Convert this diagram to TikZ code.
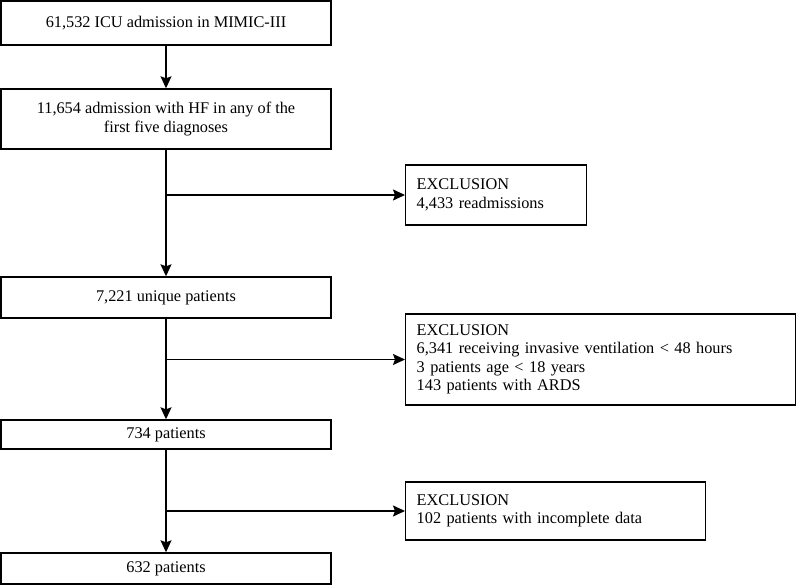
\documentclass[tikz,border=0pt]{standalone}
\usepackage{fontspec}
\setmainfont{Liberation Serif}
\usetikzlibrary{arrows.meta}

\begin{document}
\begin{tikzpicture}[x=1pt, y=-1pt,
        box/.style={draw, line width=1.4pt, minimum width=330pt, align=center, inner sep=0pt, font=\fontsize{16.3}{18.5}\selectfont},
        excl/.style={draw, line width=1.4pt, anchor=west, align=left, inner xsep=11pt, inner ysep=0pt, font=\fontsize{16.3}{18.5}\selectfont},
        flow/.style={line width=1.4pt, -{Stealth[length=12pt, width=11pt, inset=2pt]}}]
        \useasboundingbox (0,0) rectangle (796,586);

        \node[box, minimum height=44pt] (icu) at (166,23) {61,532 ICU admission in MIMIC-III};
        \node[box, minimum height=60pt] (hf) at (166,119) {11,654 admission with HF in any of the\\first five diagnoses};
        \node[box, minimum height=41pt] (uniq) at (166,297.5) {7,221 unique patients};
        \node[box, minimum height=29pt] (p734) at (166,434.5) {734 patients};
        \node[box, minimum height=31pt] (p632) at (166,568.5) {632 patients};

        \node[excl, text width=159pt, minimum height=60pt] (readm) at (405,195) {EXCLUSION\\4,433 readmissions};
        \node[excl, text width=368pt, minimum height=91pt] (vent) at (405,359.5) {EXCLUSION\\6,341 receiving invasive ventilation < 48 hours\\3 patients age < 18 years\\143 patients with ARDS};
        \node[excl, text width=278pt, minimum height=58pt] (incomp) at (405,511) {EXCLUSION\\102 patients with incomplete data};

        \draw[flow] (icu) -- (hf);
        \draw[flow] (hf) -- (uniq);
        \draw[flow] (hf.south |- readm.west) -- (readm.west);
        \draw[flow] (uniq) -- (p734);
        \draw[flow] (uniq.south |- vent.west) -- (vent.west);
        \draw[flow] (p734) -- (p632);
        \draw[flow] (p734.south |- incomp.west) -- (incomp.west);
    \end{tikzpicture}
\end{document}
